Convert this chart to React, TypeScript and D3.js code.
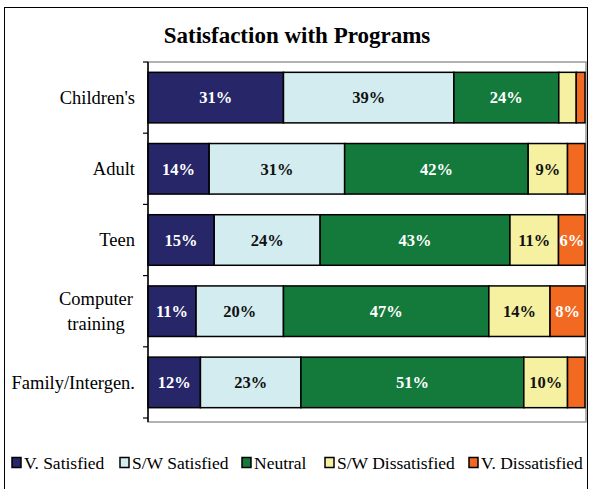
import React from "react";
import * as d3 from "d3";

const categories = ["Children's", "Adult", "Teen", "Computer training", "Family/Intergen."];
const seriesNames = ["V. Satisfied", "S/W Satisfied", "Neutral", "S/W Dissatisfied", "V. Dissatisfied"];
const vSatisfied = [31, 14, 15, 11, 12];
const swSatisfied = [39, 31, 24, 20, 23];
const neutral = [24, 42, 43, 47, 51];
const swDissatisfied = [4, 9, 11, 14, 10];
const vDissatisfied = [2, 4, 6, 8, 4];
const colors = ["#262669", "#d2ecef", "#137a3b", "#f5f1a0", "#f26a21"];
const labelColors = ["#ffffff", "#111111", "#ffffff", "#111111", "#ffffff"];

const W = 590;
const H = 489;
const FONT = "'Liberation Serif', serif";

export default function App() {
  const series = [vSatisfied, swSatisfied, neutral, swDissatisfied, vDissatisfied];
  const rows = categories.map((c, i) => {
    const vals = series.map((s) => s[i]);
    const total = d3.sum(vals);
    let acc = 0;
    const segs = vals.map((v, k) => {
      const s = { k, v, x0: acc / total, x1: (acc + v) / total };
      acc += v;
      return s;
    });
    return { c, segs };
  });

  const left = 148;
  const right = 586;
  const top = 62;
  const bottom = 422;
  const x = d3.scaleLinear().domain([0, 1]).range([left, right - 1]);
  const y = d3.scaleBand<string>().domain(categories).range([top, bottom - 4]).paddingInner(0.29).paddingOuter(0.145);
  const yOuter = d3.scaleBand<string>().domain(categories).range([top, bottom - 4]);

  const legendX = [12, 120, 242, 325, 469];

  return (
    <svg width={W} height={H} style={{ position: "absolute", left: 0, top: 0, background: "#fff" }} fontFamily={FONT}>
      <rect x={4.5} y={7.5} width={583} height={490} fill="#fff" stroke="#000" strokeWidth={1} />
      <text x={297} y={43} textAnchor="middle" fontSize={23} fontWeight="bold" fill="#000">
        Satisfaction with Programs
      </text>
      <rect x={left} y={top} width={right - left} height={bottom - top} fill="none" stroke="#999" strokeWidth={1.5} />
      {rows.map((r) => (
        <g key={r.c}>
          {r.segs.map((s) => (
            <rect
              key={s.k}
              x={x(s.x0)}
              y={y(r.c)}
              width={x(s.x1) - x(s.x0)}
              height={y.bandwidth()}
              fill={colors[s.k]}
              stroke="#000"
              strokeWidth={1.5}
            />
          ))}
          {r.segs.map((s) =>
            s.v >= 5 ? (
              <text
                key={"t" + s.k}
                x={(x(s.x0) + x(s.x1)) / 2}
                y={(y(r.c) as number) + y.bandwidth() / 2}
                dy="0.35em"
                textAnchor="middle"
                fontSize={16.5}
                fontWeight="bold"
                fill={labelColors[s.k]}
              >
                {s.v}%
              </text>
            ) : null
          )}
        </g>
      ))}
      <line x1={left} x2={left} y1={top} y2={bottom} stroke="#000" strokeWidth={1.5} />
      {categories.map((c, i) => (
        <line key={"tk" + i} x1={left - 5} x2={left} y1={yOuter(c)} y2={yOuter(c)} stroke="#000" strokeWidth={1.2} />
      ))}
      <line x1={left - 5} x2={left} y1={bottom - 4} y2={bottom - 4} stroke="#000" strokeWidth={1.2} />
      {categories.map((c) => {
        const cy = (y(c) as number) + y.bandwidth() / 2;
        const words = c === "Computer training" ? ["Computer", "training"] : [c];
        const multi = words.length > 1;
        const tx = multi ? 96 : 135;
        return (
          <text key={"c" + c} x={tx} textAnchor={multi ? "middle" : "end"} fontSize={18.5} fill="#000">
            {words.map((w, j) => (
              <tspan key={j} x={tx} y={cy + (j - (words.length - 1) / 2) * 25} dy="0.35em">
                {w}
              </tspan>
            ))}
          </text>
        );
      })}
      {seriesNames.map((n, i) => (
        <g key={n}>
          <rect x={legendX[i]} y={457.5} width={9} height={10} fill={colors[i]} stroke="#000" strokeWidth={1.5} />
          <text x={legendX[i] + 12} y={463} dy="0.35em" fontSize={17.5} fill="#000">
            {n}
          </text>
        </g>
      ))}
    </svg>
  );
}
